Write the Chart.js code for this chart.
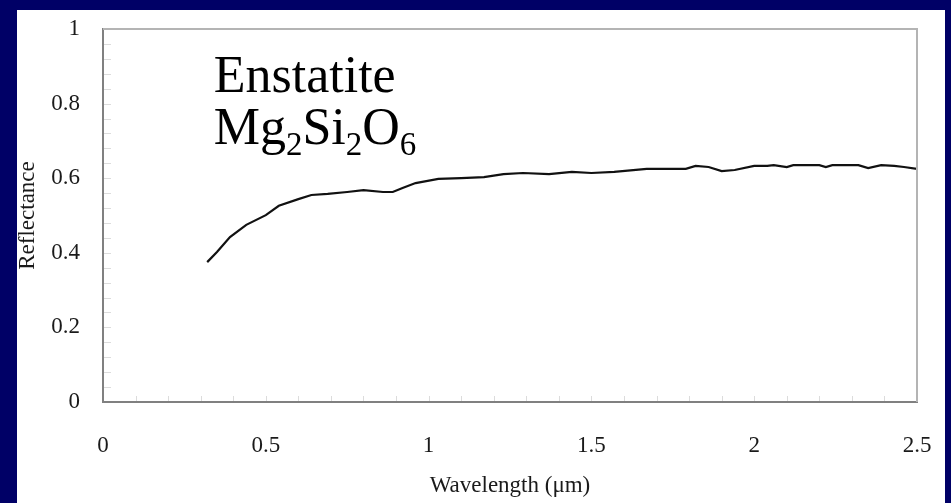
<!DOCTYPE html>
<html>
<head>
<meta charset="utf-8">
<script src="https://cdn.jsdelivr.net/npm/chart.js@4/dist/chart.umd.min.js"></script>
<style>
  html, body { margin: 0; padding: 0; background: #000066; }
  body { width: 951px; height: 503px; position: relative; overflow: hidden; }
  #panel { position: absolute; left: 17px; top: 10px; width: 928px; height: 493px; background: #ffffff; }
  canvas { display: block; }
</style>
</head>
<body>
<div id="panel"><canvas id="spectrum" width="928" height="493"></canvas></div>
<script>
// Enstatite reflectance spectrum
const wavelength = [0.32, 0.35, 0.39, 0.44, 0.50, 0.54, 0.60, 0.64, 0.69, 0.75, 0.80, 0.86, 0.89, 0.92, 0.96,
  1.03, 1.10, 1.17, 1.23, 1.29, 1.37, 1.44, 1.50, 1.57, 1.67, 1.79, 1.82, 1.86, 1.90, 1.94, 2.00, 2.04, 2.06,
  2.10, 2.12, 2.20, 2.22, 2.24, 2.32, 2.35, 2.39, 2.43, 2.46, 2.50];
const reflectance = [0.375, 0.402, 0.442, 0.475, 0.501, 0.526, 0.544, 0.555, 0.558, 0.563, 0.568, 0.563, 0.563, 0.574, 0.587,
  0.598, 0.600, 0.603, 0.611, 0.614, 0.611, 0.617, 0.614, 0.617, 0.625, 0.625, 0.633, 0.630, 0.619, 0.622, 0.633, 0.633, 0.635,
  0.630, 0.635, 0.635, 0.630, 0.635, 0.635, 0.627, 0.635, 0.633, 0.630, 0.625];

const xTicks = { min: 0, max: 2.5, step: 0.5, minor: 0.1 };
const yTicks = { min: 0, max: 1, step: 0.2, minor: 0.04 };

const serif = '"Liberation Serif", "DejaVu Serif", serif';
const plainNumber = v => String(Number(v.toFixed(2)));

// frame on top/right plus the small inner tick marks
const frameAndMinorTicks = {
  id: 'frameAndMinorTicks',
  afterDraw(chart) {
    const { ctx, chartArea: a, scales } = chart;
    ctx.save();
    ctx.strokeStyle = '#b4b4b4';
    ctx.lineWidth = 2;
    ctx.beginPath();
    ctx.moveTo(a.left, a.top);
    ctx.lineTo(a.right, a.top);
    ctx.lineTo(a.right, a.bottom);
    ctx.stroke();

    ctx.strokeStyle = '#dcdcdc';
    ctx.lineWidth = 1;
    ctx.beginPath();
    for (let v = yTicks.minor; v < yTicks.max - 1e-6; v += yTicks.minor) {
      const y = Math.round(scales.y.getPixelForValue(v)) + 0.5;
      ctx.moveTo(a.left + 1, y);
      ctx.lineTo(a.left + 8, y);
    }
    for (let v = xTicks.minor; v < xTicks.max - 1e-6; v += xTicks.minor) {
      const x = Math.round(scales.x.getPixelForValue(v)) + 0.5;
      ctx.moveTo(x, a.bottom - 1);
      ctx.lineTo(x, a.bottom - 6);
    }
    ctx.stroke();
    ctx.restore();
  }
};

// mineral name and formula with subscripts
const labelAt = { x: 0.34, y: 0.83 };
const mineralLabel = {
  id: 'mineralLabel',
  afterDraw(chart) {
    const { ctx, scales } = chart;
    const x0 = scales.x.getPixelForValue(labelAt.x);
    const y0 = scales.y.getPixelForValue(labelAt.y);
    const big = '52px ' + serif;
    const small = '33px ' + serif;
    ctx.save();
    ctx.fillStyle = '#000000';
    ctx.textBaseline = 'alphabetic';
    ctx.font = big;
    ctx.fillText('Enstatite', x0, y0);
    const parts = [['Mg', false], ['2', true], ['Si', false], ['2', true], ['O', false], ['6', true]];
    let x = x0;
    const y1 = y0 + 52;
    parts.forEach(([t, sub]) => {
      ctx.font = sub ? small : big;
      ctx.fillText(t, x, sub ? y1 + 11 : y1);
      x += ctx.measureText(t).width;
    });
    ctx.restore();
  }
};

new Chart(document.getElementById('spectrum'), {
  type: 'line',
  data: {
    datasets: [{
      data: wavelength.map((w, i) => ({ x: w, y: reflectance[i] })),
      borderColor: '#111111',
      borderWidth: 2.2,
      pointRadius: 0,
      tension: 0,
      fill: false
    }]
  },
  options: {
    responsive: false,
    animation: false,
    devicePixelRatio: 1,
    layout: { padding: { left: 0, top: 19, right: 28, bottom: 0 } },
    plugins: { legend: { display: false }, tooltip: { enabled: false } },
    scales: {
      x: {
        type: 'linear',
        min: xTicks.min,
        max: xTicks.max,
        grid: { display: true, drawOnChartArea: false, drawTicks: false },
        border: { color: '#808080', width: 2 },
        ticks: {
          stepSize: xTicks.step,
          padding: 30,
          color: '#1a1a1a',
          font: { family: serif, size: 23 },
          maxRotation: 0,
          callback: plainNumber
        },
        title: {
          display: true,
          text: 'Wavelength (μm)',
          color: '#1a1a1a',
          font: { family: serif, size: 23 },
          padding: { top: 0, bottom: 3 }
        },
        afterFit(scale) {
          scale.height = 101;
          scale.paddingLeft = 0;
          scale.paddingRight = 0;
        }
      },
      y: {
        min: yTicks.min,
        max: yTicks.max,
        grid: { display: true, drawOnChartArea: false, drawTicks: false },
        border: { color: '#808080', width: 2 },
        ticks: {
          stepSize: yTicks.step,
          padding: 23,
          color: '#1a1a1a',
          font: { family: serif, size: 23 },
          callback: plainNumber
        },
        title: {
          display: true,
          text: 'Reflectance',
          color: '#1a1a1a',
          font: { family: serif, size: 23, lineHeight: 0.95 },
          padding: 0
        },
        afterFit(scale) {
          scale.width = 86;
          scale.paddingTop = 0;
          scale.paddingBottom = 0;
        }
      }
    }
  },
  plugins: [frameAndMinorTicks, mineralLabel]
});
</script>
</body>
</html>
